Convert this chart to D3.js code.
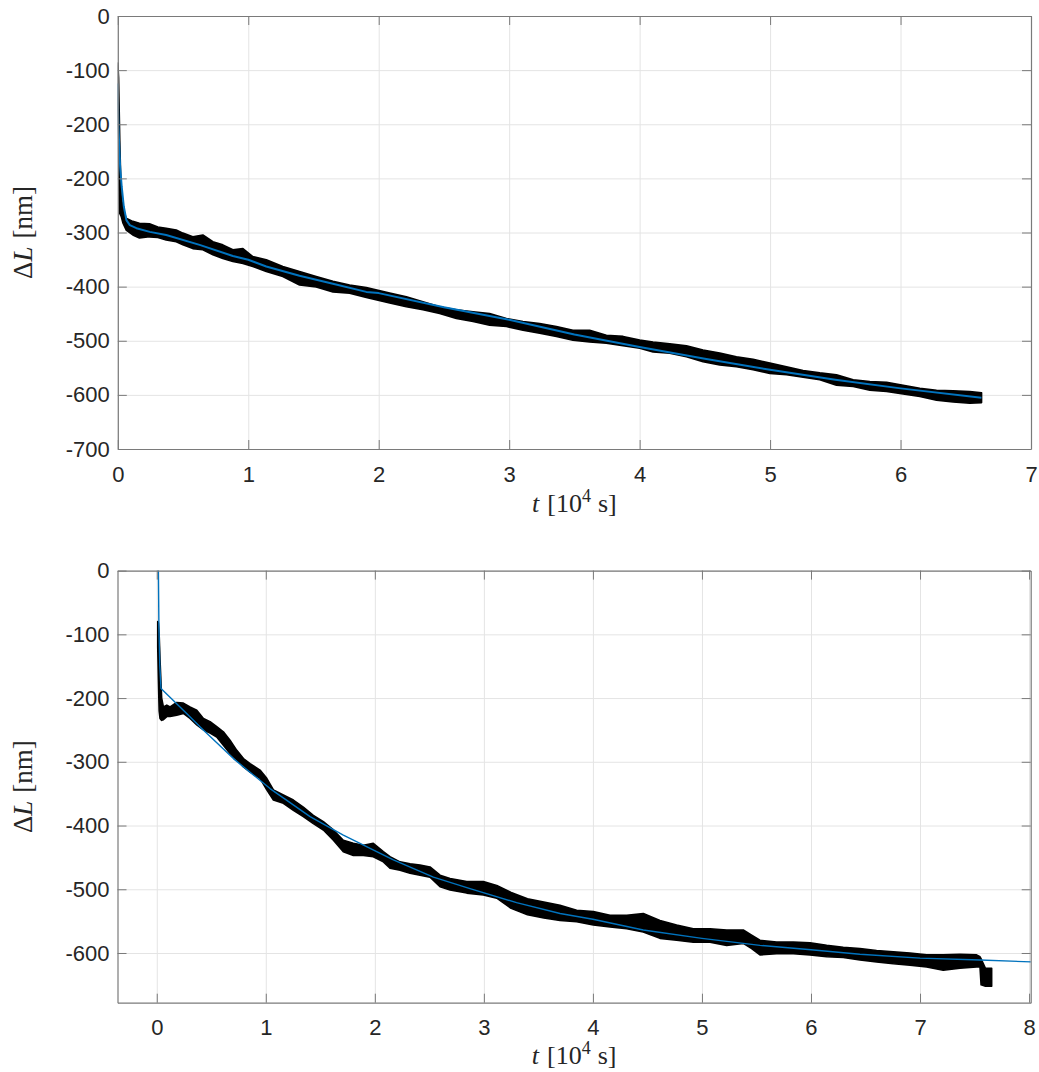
<!DOCTYPE html>
<html><head><meta charset="utf-8">
<script src="https://cdn.jsdelivr.net/npm/d3@7"></script>
<style>body{margin:0;background:#fff} svg{display:block}</style>
</head><body><svg id="c" width="1039" height="1072"></svg>
<script>
// ---------- Top panel data ----------
const topXTicks = [0,1,2,3,4,5,6,7];
const topXLabels = ["0","1","2","3","4","5","6","7"];
const topYTicks = [0,-87.5,-175,-262.5,-350,-437.5,-525,-612.5,-700];
const topYLabels = ["0","-100","-200","-200","-300","-400","-500","-600","-700"];
// measured data band (upper / lower edge of the black trace)
const topT  = [0,0.006,0.015,0.026,0.040,0.064,0.115,0.166,0.243,0.307,0.371,0.448,0.499,0.575,0.652,0.729,0.805,0.882,0.959,1.035,1.138,1.265,1.393,1.521,1.649,1.777,1.905,2.084,2.212,2.339,2.467,2.595,2.723,2.850,2.979,3.106,3.234,3.362,3.489,3.617,3.745,3.873,4.001,4.103,4.231,4.359,4.486,4.614,4.742,4.870,4.998,5.126,5.253,5.381,5.509,5.637,5.765,5.893,6.020,6.148,6.276,6.403,6.531,6.621];
const topHi = [-76,-100,-200,-292,-310,-327,-332,-335,-336,-341,-343,-346,-351,-357,-354,-365,-370,-378,-376,-389,-394,-405,-413,-421,-429,-435,-439,-448,-454,-462,-470,-475,-478,-481,-489,-494,-497,-502,-508,-508,-516,-518,-524,-527,-530,-533,-540,-545,-551,-555,-561,-567,-573,-577,-580,-588,-591,-592,-597,-602,-605,-606,-607,-609];
const topLo = [-140,-260,-319,-324,-335,-346,-354,-359,-357,-358,-362,-365,-370,-376,-378,-386,-392,-397,-400,-405,-413,-421,-435,-438,-446,-448,-455,-464,-470,-475,-481,-489,-494,-500,-502,-508,-513,-518,-524,-527,-529,-533,-537,-543,-545,-551,-559,-564,-567,-572,-578,-580,-584,-588,-597,-599,-605,-607,-611,-615,-621,-624,-626,-625];
// fit curve
const topFitT = [0,0.005,0.018,0.030,0.046,0.066,0.092,0.143,0.245,0.371,0.627,0.882,1.0,1.138,1.393,1.649,1.905,2.0,2.5,3.0,3.5,4.0,4.5,5.0,5.5,6.0,6.62];
const topFitV = [-109,-179,-244,-276,-308,-330,-338,-343,-349,-354,-370,-388,-394,-405,-420,-433,-446,-448,-471,-491,-515,-535,-554,-572,-588,-602,-617];

// ---------- Bottom panel data ----------
const botXTicks = [0,1,2,3,4,5,6,7,8];
const botXLabels = ["0","1","2","3","4","5","6","7","8"];
const botYTicks = [0,-100,-200,-300,-400,-500,-600];
const botYLabels = ["0","-100","-200","-300","-400","-500","-600"];
const botT  = [0.009,0.015,0.022,0.030,0.045,0.061,0.092,0.122,0.183,0.244,0.305,0.367,0.428,0.489,0.550,0.611,0.672,0.734,0.795,0.856,0.947,1.009,1.070,1.161,1.253,1.344,1.436,1.528,1.620,1.711,1.803,1.895,1.986,2.078,2.139,2.231,2.323,2.414,2.506,2.598,2.690,2.843,2.995,3.118,3.25,3.4,3.55,3.698,3.851,4.004,4.157,4.310,4.462,4.615,4.768,4.921,5.074,5.227,5.379,5.456,5.532,5.685,5.838,5.991,6.144,6.296,6.449,6.602,6.755,6.908,7.061,7.213,7.366,7.519,7.550,7.560,7.600,7.657];
const botHi = [-80,-82,-100,-140,-200,-214,-211,-214,-207,-208,-214,-219,-232,-237,-245,-253,-266,-282,-295,-303,-313,-326,-344,-352,-360,-371,-384,-394,-407,-423,-428,-431,-428,-441,-449,-457,-460,-462,-465,-478,-483,-488,-488,-494,-505,-515,-520,-525,-533,-535,-541,-541,-538,-549,-556,-562,-562,-564,-564,-572,-580,-583,-583,-584,-588,-591,-593,-596,-598,-600,-603,-603,-602,-603,-606,-609,-624,-624];
const botLo = [-120,-170,-220,-232,-235,-234,-229,-229,-227,-224,-232,-242,-250,-255,-261,-274,-287,-297,-308,-316,-326,-344,-360,-365,-376,-386,-397,-407,-423,-441,-447,-447,-449,-457,-467,-470,-475,-478,-481,-496,-501,-506,-509,-514,-530,-540,-545,-549,-551,-556,-559,-562,-567,-577,-580,-583,-583,-588,-585,-593,-603,-601,-601,-603,-606,-607,-611,-614,-617,-619,-622,-627,-624,-622,-622,-650,-652,-652];
const botFitT = [0.014,0.020,0.028,0.039,0.244,0.427,0.703,1.039,1.406,1.711,1.864,2.170,2.537,2.873,3.3,3.699,4.0,4.462,5.0,5.532,6.0,6.449,7.0,7.55,8.02];
const botFitV = [20,-90,-150,-185,-219,-250,-295,-342,-386,-415,-428,-454,-481,-499,-521,-538,-547,-564,-577,-588,-595,-602,-608,-611,-614];

const svg = d3.select('#c');
svg.append('rect').attr('width',1039).attr('height',1072).attr('fill','#fff');

const TICKFONT = '"Liberation Sans", Arial, Helvetica, sans-serif';
const SERIF = '"Liberation Serif", "DejaVu Serif", serif';
const TXT = '#262626';
const AXC = '#7a7a7a';
const GRID = '#e4e4e4';

function panel(o){
  const g = svg.append('g');
  const x = d3.scaleLinear().domain(o.xDomain).range([o.left,o.right]);
  const y = d3.scaleLinear().domain(o.yDomain).range([o.bottom,o.top]);
  const w = o.right-o.left, h = o.bottom-o.top;

  // grid
  g.append('g').attr('transform',`translate(0,${o.bottom})`)
    .call(d3.axisBottom(x).tickValues(o.xTicks).tickSize(-h).tickSizeOuter(0).tickFormat(''))
    .call(s=>{s.select('.domain').remove(); s.selectAll('line').attr('stroke',GRID).attr('stroke-width',1);});
  g.append('g').attr('transform',`translate(${o.left},0)`)
    .call(d3.axisLeft(y).tickValues(o.yTicks).tickSize(-w).tickSizeOuter(0).tickFormat(''))
    .call(s=>{s.select('.domain').remove(); s.selectAll('line').attr('stroke',GRID).attr('stroke-width',1);});

  const id = 'clip'+o.id;
  svg.append('clipPath').attr('id',id).append('rect')
    .attr('x',o.left).attr('y',o.top).attr('width',w).attr('height',h);
  const pg = g.append('g').attr('clip-path',`url(#${id})`);

  const area = d3.area()
    .x((d,i)=>x(o.t[i])).y0((d,i)=>y(o.lo[i])).y1((d,i)=>y(o.hi[i]));
  pg.append('path').datum(o.t).attr('d',area)
    .attr('fill','#000').attr('stroke','#000').attr('stroke-width',1.6).attr('stroke-linejoin','round');

  const line = d3.line().x((d,i)=>x(o.fitT[i])).y((d,i)=>y(o.fitV[i]));
  pg.append('path').datum(o.fitT).attr('d',line)
    .attr('fill','none').attr('stroke','#0072BD').attr('stroke-width',o.fitW).attr('stroke-linejoin','round');

  const style = s=>{
    s.select('.domain').attr('stroke',AXC).attr('stroke-width',1.2);
    s.selectAll('.tick line').attr('stroke',AXC).attr('stroke-width',1);
    s.selectAll('text').attr('fill',TXT).attr('font-family',TICKFONT).attr('font-size',22);
  };
  g.append('g').attr('transform',`translate(0,${o.bottom})`)
    .call(d3.axisBottom(x).tickValues(o.xTicks).tickSize(-9).tickSizeOuter(0).tickPadding(17)
      .tickFormat((d,i)=>o.xLabels[i])).call(style);
  g.append('g').attr('transform',`translate(0,${o.top})`)
    .call(d3.axisTop(x).tickValues(o.xTicks).tickSize(-9).tickSizeOuter(0).tickFormat('')).call(style);
  g.append('g').attr('transform',`translate(${o.left},0)`)
    .call(d3.axisLeft(y).tickValues(o.yTicks).tickSize(-9).tickSizeOuter(0).tickPadding(8)
      .tickFormat((d,i)=>o.yLabels[i])).call(style);
  g.append('g').attr('transform',`translate(${o.right},0)`)
    .call(d3.axisRight(y).tickValues(o.yTicks).tickSize(-9).tickSizeOuter(0).tickFormat('')).call(style);

  // x label
  const xl = g.append('text').attr('x',(o.left+o.right)/2).attr('y',o.xLabelY)
    .attr('text-anchor','middle').attr('font-family',SERIF).attr('font-size',26).attr('fill',TXT);
  xl.append('tspan').attr('font-style','italic').text('t');
  xl.append('tspan').attr('dx',8).text('[10');
  xl.append('tspan').attr('dy',-10).attr('font-size',18).text('4');
  xl.append('tspan').attr('dy',10).attr('dx',7).text('s]');

  // y label
  const yl = g.append('text').attr('transform',`translate(32,${(o.top+o.bottom)/2}) rotate(-90)`)
    .attr('text-anchor','middle').attr('font-family',SERIF).attr('font-size',27).attr('fill',TXT);
  yl.append('tspan').text('Δ');
  yl.append('tspan').attr('font-style','italic').text('L');
  yl.append('tspan').attr('dx',8).text('[nm]');
}

panel({id:'a', left:117.8, right:1031, top:16, bottom:449,
  xDomain:[0,7], yDomain:[-700,0], xTicks:topXTicks, xLabels:topXLabels,
  yTicks:topYTicks, yLabels:topYLabels, t:topT, hi:topHi, lo:topLo,
  fitT:topFitT, fitV:topFitV, fitW:2, xLabelY:512});
panel({id:'b', left:117.5, right:1030.7, top:570.6, bottom:1002.7,
  xDomain:[-0.36,8.015], yDomain:[-678,0], xTicks:botXTicks, xLabels:botXLabels,
  yTicks:botYTicks, yLabels:botYLabels, t:botT, hi:botHi, lo:botLo,
  fitT:botFitT, fitV:botFitV, fitW:1.4, xLabelY:1064});
</script></body></html>
